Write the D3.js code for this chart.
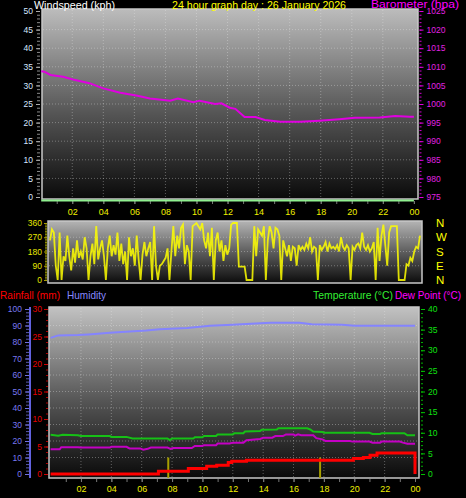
<!DOCTYPE html>
<html><head><meta charset="utf-8">
<script src="https://cdn.jsdelivr.net/npm/d3@7"></script>
<style>
body{margin:0;background:#000;}
svg{display:block;font-family:"Liberation Sans",Arial,sans-serif;}
</style>
</head><body>
<svg id="c" width="466" height="498"></svg>
<script>
// ---------- DATA ----------
const hourTicks = [2,4,6,8,10,12,14,16,18,20,22,24];
const hourLabels = ["02","04","06","08","10","12","14","16","18","20","22","00"];

const baroHours  = [0,0.2,0.6,1.4,2.05,3.1,4.0,5.1,6.2,7.0,8.3,8.8,9.8,10.2,11.2,11.6,12.15,12.5,13.1,13.8,14.4,15.4,16.7,17.9,19.2,20.2,21.8,22.8,23.75,24];
const baroValues = [1008.8,1008.7,1007.8,1007.3,1006.6,1005.6,1004.2,1003.0,1002.2,1001.5,1000.9,1001.5,1000.5,1000.9,1000.0,1000.2,999.0,998.7,996.5,996.5,995.7,995.2,995.2,995.5,995.9,996.3,996.4,996.8,996.6,996.6];

const windHours  = [0,24];
const windValues = [0,0];

// wind direction, 8 readings per hour (every 7.5 min), 00:00 .. 24:00
const dirValues = [
 250,320,300,90,0,300,0,150,
 120,280,150,60,200,110,250,140,
 180,130,270,200,0,150,230,100,
 340,130,200,250,150,0,200,280,
 150,220,160,300,120,230,100,180,
 0,270,150,200,90,280,130,0,
 160,240,150,200,240,0,340,90,
 0,90,100,120,140,200,0,180,
 340,150,280,200,330,350,100,220,
 180,0,340,350,360,340,320,360,
 250,200,300,150,330,0,250,300,
 180,250,120,220,160,200,350,360,
 360,360,85,85,85,85,0,0,
 0,0,340,150,320,300,280,340,
 0,250,340,300,200,330,320,280,
 0,250,200,150,220,120,210,200,
 90,220,190,210,190,230,200,270,
 180,210,200,0,220,190,210,240,
 180,230,200,210,195,220,180,270,
 210,190,220,200,0,210,190,220,
 230,200,300,210,190,220,180,200,
 240,0,330,120,280,350,220,90,
 300,340,340,340,340,0,0,0,
 0,100,90,140,120,180,210,200,
 280];
const dirLabels = ["N","E","S","W","N"];

const humHours  = [0,0.5,1.8,2.5,3.9,6.3,7.2,9,10.5,12,13.5,14.5,16.4,17.2,19.2,20,24];
const humValues = [82.5,84,84.2,84.6,85.6,86.9,87.7,88.5,89.8,90.5,91.2,91.7,91.7,90.7,90.5,89.9,89.9];

const tempHours  = [0,0.5,0.8,1.8,2,3.9,4,5,5.4,6.5,7.7,7.85,8,9.4,9.5,10,10.1,10.9,11,12,12.1,12.7,12.8,13.8,13.9,14.9,15,16.9,17.1,17.3,17.9,18,21,21.2,21.7,21.8,23.3,23.5,24];
const tempValues = [9.5,9.3,9.5,9.4,9.2,9.2,9.0,9.0,8.6,8.6,8.6,8.2,8.6,8.6,8.9,8.9,9.2,9.2,9.6,9.6,9.9,9.9,10.3,10.4,10.7,10.8,11.1,11.1,10.8,10.3,10.2,10.0,10.0,9.7,9.7,9.9,9.9,9.4,9.4];

const dewHours  = [0,0.6,0.7,1.8,2,3.9,4,5,5.2,5.9,6.1,6.4,6.6,7.7,7.9,8.1,9.3,9.5,10,10.1,10.9,11,11.8,12,12.7,12.9,13.8,14,14.6,14.8,15.3,15.5,16,16.1,16.3,16.5,17.3,17.5,17.9,18.1,19.7,19.9,21,21.2,21.7,21.8,23,23.2,23.5,24];
const dewValues = [6.0,6.0,6.5,6.5,6.4,6.4,6.6,6.6,6.2,6.2,5.9,6.1,6.4,6.4,6.1,6.3,6.3,6.8,6.8,7.0,7.0,7.4,7.4,7.6,7.6,8.2,8.5,8.8,8.8,9.2,9.2,9.6,9.6,9.3,9.6,9.4,9.4,8.7,8.4,8.0,8.0,7.85,7.85,7.6,7.6,7.85,7.85,7.6,7.35,7.35];

const rainHours  = [0,7.1,9.07,10.28,10.94,11.7,11.93,12.9,19.94,20.6,21.04,21.5,23.98,24];
const rainValues = [0,0.5,1.0,1.4,1.6,2.1,2.3,2.5,2.8,3.0,3.4,3.8,3.8,0];

const rateHours  = [7.75,17.75];
const rateValues = [3,3];

// ---------- DRAW ----------
const svg = d3.select("#c");
const defs = svg.append("defs");
function grad(id, top, bottom){
  const g = defs.append("linearGradient").attr("id",id).attr("x1",0).attr("y1",0).attr("x2",0).attr("y2",1);
  g.append("stop").attr("offset","0%").attr("stop-color",top);
  g.append("stop").attr("offset","55%").attr("stop-color","#555");
  g.append("stop").attr("offset","100%").attr("stop-color",bottom);
}
grad("gTop","#bcbcbc","#0a0a0a");
grad("gMid","#b4b4b4","#0c0c0c");
grad("gBot","#c2c2c2","#0a0a0a");

const gridCol = "rgba(235,235,235,0.35)";
const intFmt = d3.format("d");
function cleanAxis(g, color, size, tickCol){
  g.select(".domain").remove();
  g.selectAll("text").attr("fill",color).style("font-size",size+"px");
  g.selectAll("line").attr("stroke",tickCol||color);
}
function label(x,y,color,len,txt){
  svg.append("text").attr("x",x).attr("y",y).attr("fill",color)
    .style("font-size","11px").attr("textLength",len).attr("lengthAdjust","spacingAndGlyphs").text(txt);
}

// ===== TOP PANEL =====
const xT = d3.scaleLinear([0,24],[41.2,413.9]);
const yW = d3.scaleLinear([0,50],[197,11]);
const yB = d3.scaleLinear([975,1025],[197,11]);

svg.append("rect").attr("x",42).attr("y",9).attr("width",376).attr("height",190).attr("fill","url(#gTop)");
svg.append("g").selectAll("line").data(d3.range(5,50,5)).join("line")
  .attr("x1",43).attr("x2",417).attr("y1",d=>yW(d)).attr("y2",d=>yW(d))
  .attr("stroke",gridCol).attr("stroke-dasharray","1,2");
svg.append("g").selectAll("line").data(hourTicks.slice(0,-1)).join("line")
  .attr("x1",d=>xT(d)).attr("x2",d=>xT(d)).attr("y1",10).attr("y2",198)
  .attr("stroke",gridCol).attr("stroke-dasharray","1,2");
svg.append("rect").attr("x",42).attr("y",9).attr("width",376).attr("height",190)
  .attr("fill","none").attr("stroke","#c8c8c8").attr("stroke-width",1.5);

svg.append("g").attr("transform","translate(40,0)")
  .call(d3.axisLeft(yW).tickValues(d3.range(0,51,1)).tickSize(3).tickFormat(""))
  .call(g=>cleanAxis(g,"#ccc",8,"#8a8a8a"));
svg.append("g").attr("transform","translate(40,0)")
  .call(d3.axisLeft(yW).tickValues(d3.range(0,51,5)).tickSize(4).tickPadding(3).tickFormat(intFmt))
  .call(g=>cleanAxis(g,"#d6e6ff",8.5,"#aaa"));
svg.append("g").attr("transform","translate(419.5,0)")
  .call(d3.axisRight(yB).tickValues(d3.range(975,1026,1)).tickSize(2).tickFormat(""))
  .call(g=>cleanAxis(g,"#e000e0",8,"#d000d0"));
svg.append("g").attr("transform","translate(419.5,0)")
  .call(d3.axisRight(yB).tickValues(d3.range(975,1026,5)).tickSize(4).tickPadding(3).tickFormat(intFmt))
  .call(g=>cleanAxis(g,"#e020e0",8.5,"#e000e0"));
svg.append("g").attr("transform","translate(0,201)")
  .call(d3.axisBottom(xT).tickValues(d3.range(1,25,1)).tickSize(3).tickFormat(""))
  .call(g=>cleanAxis(g,"#ff0",9,"#777"));
svg.append("g").attr("transform","translate(0,201)")
  .call(d3.axisBottom(xT).tickValues(hourTicks).tickSize(3).tickPadding(5).tickFormat((d,i)=>hourLabels[i]))
  .call(g=>cleanAxis(g,"#f0f000",9,"#777"));

const baroData = baroHours.map((h,i)=>[h,baroValues[i]]);
svg.append("path").datum(baroData)
  .attr("d",d3.line().x(d=>xT(d[0])).y(d=>yB(d[1])))
  .attr("fill","none").attr("stroke","#e000e0").attr("stroke-width",2);
const windData = windHours.map((h,i)=>[h,windValues[i]]);
svg.append("path").datum(windData)
  .attr("d",d3.line().x(d=>xT(d[0])).y(d=>yW(d[1])))
  .attr("transform","translate(0,3.5)")
  .attr("fill","none").attr("stroke","#90f090").attr("stroke-width",2);

label(34,9,"#ffffff",81,"Windspeed (kph)");
label(172,9,"#ffff00",174,"24 hour graph day : 26 January 2026");
label(371,8,"#ff00ff",88,"Barometer (hpa)");

// ===== MIDDLE PANEL =====
const xM = d3.scaleLinear([0,24],[50,420]);
const yD = d3.scaleLinear([0,360],[280,223]);
svg.append("rect").attr("x",48).attr("y",221).attr("width",374).attr("height",62).attr("fill","url(#gMid)");
svg.append("g").selectAll("line").data([90,180,270]).join("line")
  .attr("x1",49).attr("x2",421).attr("y1",d=>yD(d)).attr("y2",d=>yD(d))
  .attr("stroke",gridCol).attr("stroke-dasharray","1,2");
svg.append("rect").attr("x",48).attr("y",221).attr("width",374).attr("height",62)
  .attr("fill","none").attr("stroke","#c8c8c8").attr("stroke-width",1.5);
svg.append("g").attr("transform","translate(47,0)")
  .call(d3.axisLeft(yD).tickValues(d3.range(0,361,10)).tickSize(2).tickFormat(""))
  .call(g=>cleanAxis(g,"#ee0","8","#8c8c00"));
svg.append("g").attr("transform","translate(47,0)")
  .call(d3.axisLeft(yD).tickValues([0,90,180,270,360]).tickSize(3).tickPadding(2).tickFormat(intFmt))
  .call(g=>cleanAxis(g,"#e8e800",8.5,"#aaa000"));
svg.append("g").attr("transform","translate(422,0)")
  .call(d3.axisRight(yD).tickValues([0,90,180,270,360]).tickSize(0).tickPadding(14).tickFormat((d,i)=>dirLabels[i]))
  .call(g=>cleanAxis(g,"#ffff00",11.5,"none"));
const dirData = dirValues.map((v,i)=>[i/8,v]);
svg.append("path").datum(dirData)
  .attr("d",d3.line().x(d=>xM(d[0])).y(d=>yD(d[1])))
  .attr("fill","none").attr("stroke","#ffff00").attr("stroke-opacity",0.85).attr("stroke-width",1.8);

// ===== BOTTOM PANEL =====
const xB = d3.scaleLinear([0,24],[50.6,415]);
const yH = d3.scaleLinear([0,100],[474,309]);
const yR = d3.scaleLinear([0,30],[474,309]);
const yT = d3.scaleLinear([0,40],[474,309]);

svg.append("rect").attr("x",49).attr("y",307).attr("width",370).attr("height",171).attr("fill","url(#gBot)");
svg.append("g").selectAll("line").data(d3.range(10,100,10)).join("line")
  .attr("x1",50).attr("x2",418).attr("y1",d=>yH(d)).attr("y2",d=>yH(d))
  .attr("stroke",gridCol).attr("stroke-dasharray","1,2");
svg.append("g").selectAll("line").data(hourTicks.slice(0,-1)).join("line")
  .attr("x1",d=>xB(d)).attr("x2",d=>xB(d)).attr("y1",308).attr("y2",477)
  .attr("stroke",gridCol).attr("stroke-dasharray","1,2");
svg.append("rect").attr("x",49).attr("y",307).attr("width",370).attr("height",171)
  .attr("fill","none").attr("stroke","#c8c8c8").attr("stroke-width",1.5);

svg.append("g").attr("transform","translate(29,0)")
  .call(d3.axisLeft(yH).tickValues(d3.range(0,101,2)).tickSize(3).tickFormat(""))
  .call(g=>cleanAxis(g,"#77f",8,"#5a5ab0"));
svg.append("g").attr("transform","translate(29,0)")
  .call(d3.axisLeft(yH).tickValues(d3.range(0,101,10)).tickSize(4).tickPadding(3).tickFormat(intFmt))
  .call(g=>cleanAxis(g,"#7878f0",8.5,"#7070e0"));
svg.append("line").attr("x1",30).attr("x2",30).attr("y1",yH(100)-2).attr("y2",yH(0)+4)
  .attr("stroke","#6262e0").attr("stroke-width",2);
svg.append("g").attr("transform","translate(48,0)")
  .call(d3.axisLeft(yR).tickValues(d3.range(0,31,1)).tickSize(2).tickFormat(""))
  .call(g=>cleanAxis(g,"#e00",8,"#b00000"));
svg.append("g").attr("transform","translate(48,0)")
  .call(d3.axisLeft(yR).tickValues(d3.range(0,31,5)).tickSize(4).tickPadding(2).tickFormat(intFmt))
  .call(g=>cleanAxis(g,"#e80000",8.5,"#d00000"));
svg.append("g").attr("transform","translate(421,0)")
  .call(d3.axisRight(yT).tickValues(d3.range(0,41,1)).tickSize(2).tickFormat(""))
  .call(g=>cleanAxis(g,"#0d0",8,"#00b000"));
svg.append("g").attr("transform","translate(421,0)")
  .call(d3.axisRight(yT).tickValues(d3.range(0,41,5)).tickSize(4).tickPadding(3).tickFormat(intFmt))
  .call(g=>cleanAxis(g,"#10e010",8.5,"#00c000"));
svg.append("g").attr("transform","translate(0,479)")
  .call(d3.axisBottom(xB).tickValues(d3.range(1,25,1)).tickSize(3).tickFormat(""))
  .call(g=>cleanAxis(g,"#ff0",9,"#777"));
svg.append("g").attr("transform","translate(0,479)")
  .call(d3.axisBottom(xB).tickValues(hourTicks).tickSize(3).tickPadding(4).tickFormat((d,i)=>hourLabels[i]))
  .call(g=>cleanAxis(g,"#f0f000",9,"#777"));

const lineOf = (hours, vals, ys, curve) => d3.line().curve(curve||d3.curveLinear)
  .x((d,i)=>xB(hours[i])).y((d,i)=>ys(vals[i]))(vals);
svg.append("path").attr("d",lineOf(humHours,humValues,yH))
  .attr("fill","none").attr("stroke","#8484ff").attr("stroke-width",2);
svg.append("path").attr("d",lineOf(tempHours,tempValues,yT))
  .attr("fill","none").attr("stroke","#16c016").attr("stroke-width",2);
svg.append("path").attr("d",lineOf(dewHours,dewValues,yT))
  .attr("fill","none").attr("stroke","#c400c4").attr("stroke-width",2);
svg.append("g").selectAll("line").data(rateHours).join("line")
  .attr("x1",d=>xB(d)).attr("x2",d=>xB(d))
  .attr("y1",(d,i)=>yR(rateValues[i])).attr("y2",yR(0)+4)
  .attr("stroke","#a8a000").attr("stroke-width",2);
svg.append("path").attr("d",lineOf(rainHours,rainValues,yR,d3.curveStepAfter))
  .attr("fill","none").attr("stroke","#ff0000").attr("stroke-width",3);

label(0,299,"#ff0000",60,"Rainfall (mm)");
label(67,299,"#8888ff",39,"Humidity");
label(313,299,"#33ee33",80,"Temperature (°C)");
label(395,299,"#ff00ff",66,"Dew Point (°C)");
</script>
</body></html>
